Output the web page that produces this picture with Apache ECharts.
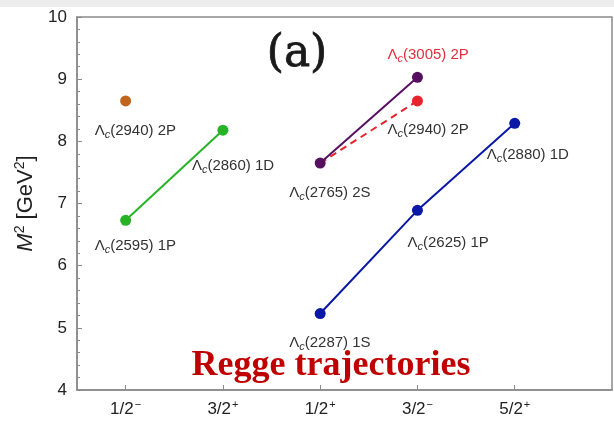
<!DOCTYPE html>
<html>
<head>
<meta charset="utf-8">
<script src="https://cdn.jsdelivr.net/npm/echarts@6/dist/echarts.min.js"></script>
<style>
  html, body { margin: 0; padding: 0; background: #fff; }
  #chart { width: 614px; height: 421px; }
</style>
</head>
<body>
<div id="chart"></div>
<script>
// Spin-parity slots along the horizontal axis
const jpLabels = ['1/2', '3/2', '1/2', '3/2', '5/2'];
const jpSigns  = ['−', '+', '+', '−', '+'];
const jpSlots  = [1, 2, 3, 4, 5];

// M^2 values (GeV^2) for each trajectory
const lone2P   = { x: [1], m2: [8.65], names: ['(2940) 2P'] };
const greenP   = { x: [1, 2], m2: [6.73, 8.18], names: ['(2595) 1P', '(2860) 1D'] };
const purple2S = { x: [3, 4], m2: [7.65, 9.03], names: ['(2765) 2S', '(3005) 2P'] };
const red2S    = { x: [3, 4], m2: [7.65, 8.65], names: ['', '(2940) 2P'] };
const blue1S   = { x: [3, 4, 5], m2: [5.23, 6.89, 8.29], names: ['(2287) 1S', '(2625) 1P', '(2880) 1D'] };

const yTicks = [4, 5, 6, 7, 8, 9, 10];

const SANS = 'Liberation Sans, Arial, sans-serif';
const labelRich = {
  l:  { fontSize: 15, color: '#333', fontFamily: SANS, lineHeight: 19 },
  s:  { fontSize: 11, color: '#333', fontFamily: SANS, fontStyle: 'italic', verticalAlign: 'bottom', lineHeight: 13 },
  lr: { fontSize: 15, color: '#e0303a', fontFamily: SANS, lineHeight: 19 },
  sr: { fontSize: 11, color: '#e0303a', fontFamily: SANS, fontStyle: 'italic', verticalAlign: 'bottom', lineHeight: 13 }
};

function lambdaText(name, red) {
  if (!name) return '';
  return red ? '{lr|Λ}{sr|c}{lr|' + name + '}' : '{l|Λ}{s|c}{l|' + name + '}';
}

function buildData(set, offsets, reds) {
  return set.x.map((x, i) => ({
    value: [x, set.m2[i]],
    label: {
      show: !!set.names[i],
      position: 'inside',
      align: 'left',
      verticalAlign: 'middle',
      offset: offsets[i],
      formatter: lambdaText(set.names[i], reds && reds[i]),
      rich: labelRich
    }
  }));
}

function lineSeries(set, color, offsets, opts) {
  opts = opts || {};
  return {
    type: 'line',
    data: buildData(set, offsets, opts.reds),
    symbol: 'circle',
    symbolSize: opts.noSymbolFirst ? (v, p) => (p.dataIndex === 0 ? 0 : 11) : 11,
    itemStyle: { color: color },
    lineStyle: { color: color, width: 2, type: opts.dashed ? [7, 5] : 'solid' },
    z: opts.z || 3,
    animation: false
  };
}

const chart = echarts.init(document.getElementById('chart'));
chart.setOption({
  backgroundColor: '#ffffff',
  grid: {
    left: 77, right: 2, top: 17, bottom: 31,
    show: true, borderColor: '#8a8a8a', borderWidth: 1.5, backgroundColor: '#fff'
  },
  xAxis: {
    type: 'value',
    min: 0.5, max: 6,
    axisLine: { show: true, lineStyle: { color: '#8a8a8a', width: 1.5 } },
    axisTick: { show: true, inside: true, length: 5, customValues: jpSlots, lineStyle: { color: '#8a8a8a' } },
    splitLine: { show: false },
    axisLabel: {
      customValues: jpSlots,
      margin: 9,
      formatter: v => {
        const i = jpSlots.indexOf(v);
        return i < 0 ? '' : '{n|' + jpLabels[i] + '}{p|' + jpSigns[i] + '}';
      },
      rich: {
        n: { fontSize: 17, color: '#222', fontFamily: SANS, lineHeight: 21 },
        p: { fontSize: 11, color: '#222', fontFamily: SANS, verticalAlign: 'top', lineHeight: 21, padding: [0, 0, 8, 1] }
      }
    }
  },
  yAxis: {
    type: 'value',
    min: yTicks[0], max: yTicks[yTicks.length - 1], interval: 1,
    name: '{i|M}{p|2}{n| [GeV}{p|2}{n|]}',
    nameLocation: 'middle',
    nameGap: 35,
    nameRotate: 90,
    nameTextStyle: {
      rich: {
        i: { fontSize: 22, fontStyle: 'italic', color: '#222', fontFamily: SANS, lineHeight: 27 },
        n: { fontSize: 22, color: '#222', fontFamily: SANS, lineHeight: 27 },
        p: { fontSize: 14, color: '#222', fontFamily: SANS, verticalAlign: 'top', lineHeight: 27, padding: [0, 0, 10, 0] }
      }
    },
    axisLine: { show: true, lineStyle: { color: '#8a8a8a', width: 1.5 } },
    axisTick: { show: true, inside: true, length: 5, lineStyle: { color: '#8a8a8a' } },
    minorTick: { show: true, splitNumber: 5, length: 3, lineStyle: { color: '#8a8a8a' } },
    splitLine: { show: false },
    axisLabel: { fontSize: 17, color: '#222', margin: 10, fontFamily: SANS }
  },
  graphic: [
    { type: 'rect', left: 0, top: 0, shape: { width: 614, height: 7 }, style: { fill: '#ececec' }, silent: true },
    { type: 'text', x: 297, y: 55, style: { text: '(a)', fontSize: 44, fontFamily: 'DejaVu Serif, serif', fill: '#1a1a1a', stroke: '#1a1a1a', lineWidth: 0.8, align: 'center', verticalAlign: 'middle' }, z: 10 },
    { type: 'text', x: 331, y: 366, style: { text: 'Regge trajectories', fontSize: 36, fontWeight: 'bold', fontFamily: 'Liberation Serif, Times New Roman, serif', fill: '#c00000', align: 'center', verticalAlign: 'middle' }, z: 10 }
  ],
  series: [
    lineSeries(lone2P, '#c0651e', [[-31, 30]]),
    lineSeries(greenP, '#27b327', [[-31, 26], [-31, 36]]),
    lineSeries(red2S, '#e8232d', [[0, 0], [-30, 29]], { dashed: true, noSymbolFirst: true, z: 2 }),
    lineSeries(purple2S, '#55115f', [[-31, 30], [-30, -22]], { reds: [false, true], z: 4 }),
    lineSeries(blue1S, '#0b18a6', [[-31, 29], [-10, 33], [-28, 32]])
  ]
});
</script>
</body>
</html>
